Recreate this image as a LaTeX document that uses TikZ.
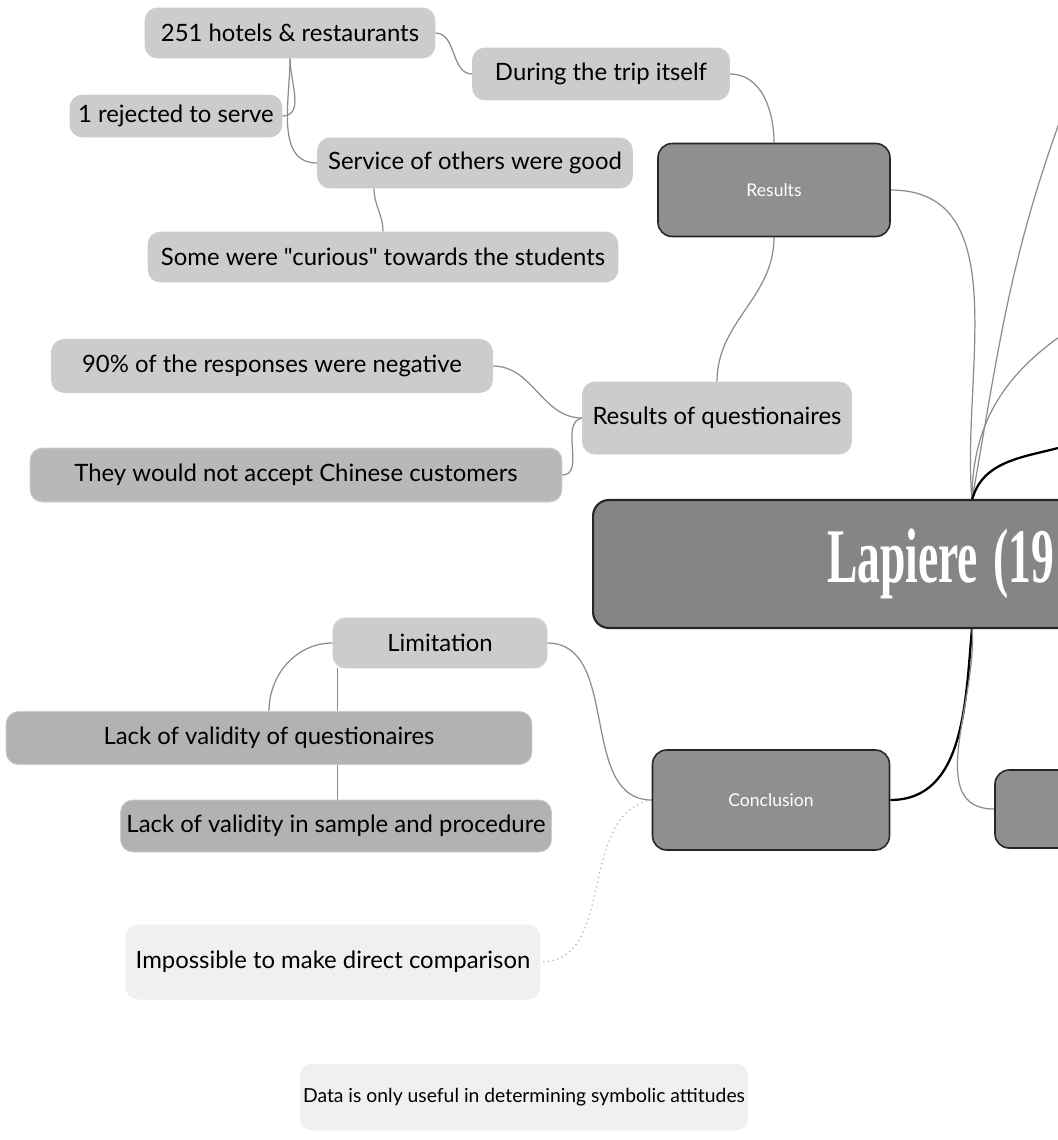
\documentclass[tikz,border=0pt]{standalone}
\usepackage{fontspec}
\setmainfont{Lato}[Ligatures=TeXOff]
\newfontfamily\titlefont{Liberation Serif}
\usepackage{xcolor}
\usetikzlibrary{positioning, calc, backgrounds}

\definecolor{leafgray}{gray}{0.80}
\definecolor{midleaf}{gray}{0.70}
\definecolor{paleleaf}{gray}{0.94}
\definecolor{topicgray}{gray}{0.56}
\definecolor{rootgray}{gray}{0.52}

\begin{document}
\begin{tikzpicture}[
    x=0.02cm, y=-0.02cm,
    leaf/.style={rectangle, draw=black!20, fill=leafgray, rounded corners=7pt, align=center, inner sep=0pt, font=\fontsize{13.6}{16}\selectfont},
    faint/.style={leaf, draw=none, fill=paleleaf},
    topic/.style={rectangle, draw=black!85, line width=0.9pt, fill=topicgray, rounded corners=8pt, align=center, inner sep=0pt, text=white, font=\fontsize{10}{12}\selectfont},
    root/.style={rectangle, draw=black!85, line width=1.2pt, fill=rootgray, rounded corners=9pt, align=left, inner ysep=0pt, text=white, font=\titlefont\bfseries\fontsize{44}{44}\selectfont},
    link/.style={draw=black!45, line width=0.7pt},
    strong/.style={draw=black, line width=1.3pt},
    weak/.style={draw=black!30, dotted, line width=0.7pt}
]
\useasboundingbox (0,0) rectangle (1058,1140);
\clip (0,0) rectangle (1058,1140);

% Central topic
\node[root, minimum height=2.56cm, text width=5.6cm, inner xsep=4.68cm] (root) at (967,564) {\scalebox{0.59}[1]{Lapiere (19}};
\coordinate (hubT) at (972,500);
\coordinate (hubB) at (972,628);
\coordinate (offA) at (1062,115);
\coordinate (offB) at (1062,335);
\coordinate (offC) at (1062,447);

% Results branch
\node[topic, minimum width=4.64cm, minimum height=1.86cm] (results) at (774,190) {Results};
\node[leaf, minimum width=5.14cm, minimum height=1.04cm] (trip) at (601,74) {During the trip itself};
\node[leaf, minimum width=5.8cm, minimum height=1.0cm] (hotels) at (290,33) {251 hotels \& restaurants};
\node[leaf, minimum width=4.24cm, minimum height=0.84cm] (rejected) at (176,116) {1 rejected to serve};
\node[leaf, minimum width=6.3cm, minimum height=1.0cm] (service) at (475,163) {Service of others were good};
\node[leaf, minimum width=9.4cm, minimum height=1.0cm] (curious) at (383,257) {Some were "curious" towards the students};
\coordinate (serviceFoot) at ($(service.south west)!0.18!(service.south east)$);

% Questionaire branch
\node[leaf, minimum width=5.38cm, minimum height=1.44cm] (quest) at (717,418) {Results of questionaires};
\node[leaf, minimum width=8.82cm, minimum height=1.06cm] (negative) at (272,366) {90\% of the responses were negative};
\node[leaf, fill=midleaf!80!leafgray, minimum width=10.64cm, minimum height=1.08cm] (chinese) at (296,475) {They would not accept Chinese customers};

% Conclusion branch
\node[topic, minimum width=4.74cm, minimum height=2.0cm] (conclusion) at (771,800) {Conclusion};
\node[topic, minimum width=2.4cm, minimum height=1.56cm] (next) at (1055,809) {};
\node[leaf, minimum width=4.28cm, minimum height=1.0cm] (limitation) at (440,643) {Limitation};
\node[leaf, fill=midleaf, minimum width=10.52cm, minimum height=1.06cm] (lackq) at (269,738) {Lack of validity of questionaires};
\node[leaf, fill=midleaf, minimum width=8.62cm, minimum height=1.04cm] (lacks) at (336,826) {Lack of validity in sample and procedure};
\node[faint, minimum width=8.3cm, minimum height=1.5cm] (compare) at (333,962) {Impossible to make direct comparison};
\node[faint, minimum width=8.96cm, minimum height=1.34cm, font=\fontsize{11}{13}\selectfont] (symbolic) at (524,1097) {Data is only useful in determining symbolic attitudes};
\coordinate (limFoot) at ($(limitation.south west)+(5,0)$);

% Links
\begin{pgfonlayer}{background}
\draw[link] (hubT) to[out=95, in=0] (results.east);
\draw[link] (hubT) to[out=80, in=-110] (offA);
\draw[link] (hubT) to[out=90, in=-145] (offB);
\draw[strong] (hubT) to[out=75, in=-165] (offC);
\draw[strong] (hubB) to[out=-95, in=0] (conclusion.east);
\draw[link] (hubB) to[out=-85, in=180] (next.west);

\draw[link] (results.north) to[out=90, in=0] (trip.east);
\draw[link] (trip.west) to[out=180, in=0] (hotels.east);
\draw[link] (hotels.south) to[out=-90, in=0] (rejected.east);
\draw[link] (hotels.south) to[out=-90, in=180] (service.west);
\draw[link] (serviceFoot) to[out=-90, in=90] (curious.north);

\draw[link] (results.south) to[out=-90, in=90] (quest.north);
\draw[link] (quest.west) to[out=180, in=0] (negative.east);
\draw[link] (quest.west) to[out=190, in=0] (chinese.east);

\draw[link] (conclusion.west) to[out=180, in=0] (limitation.east);
\draw[weak] (conclusion.west) to[out=190, in=0] (compare.east);
\draw[link] (limitation.west) to[out=180, in=90] (lackq.north);
\draw[link] (limFoot) -- (limFoot |- lacks.north);
\end{pgfonlayer}

\end{tikzpicture}
\end{document}
